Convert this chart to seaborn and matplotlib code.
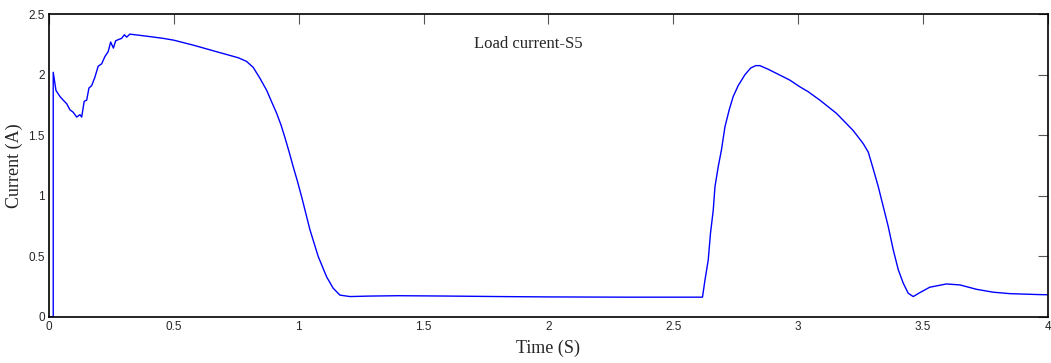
import matplotlib
matplotlib.use("Agg")
import matplotlib.pyplot as plt
import seaborn as sns
import pandas as pd

# load current S5
time_s = [0.0, 0.017, 0.017, 0.028, 0.044, 0.057, 0.071, 0.084, 0.097, 0.111, 0.124,
          0.131, 0.141, 0.151, 0.160, 0.171, 0.184, 0.197, 0.211, 0.224, 0.237,
          0.247, 0.258, 0.267, 0.278, 0.291, 0.302, 0.311, 0.324, 0.344, 0.384,
          0.458, 0.500, 0.578, 0.671, 0.758, 0.791, 0.818, 0.845, 0.872, 0.895,
          0.912, 0.930, 0.945, 0.962, 0.978, 0.995, 1.012, 1.045, 1.078, 1.112,
          1.138, 1.165, 1.205, 1.285, 1.400, 1.600, 1.800, 2.000, 2.300, 2.617,
          2.627, 2.640, 2.649, 2.660, 2.667, 2.680, 2.693, 2.707, 2.724, 2.740,
          2.760, 2.787, 2.810, 2.830, 2.847, 2.880, 2.914, 2.967, 3.007, 3.040,
          3.087, 3.154, 3.220, 3.261, 3.281, 3.301, 3.321, 3.341, 3.361, 3.381,
          3.401, 3.421, 3.441, 3.461, 3.487, 3.527, 3.594, 3.648, 3.714, 3.781,
          3.848, 3.968, 4.000]
current_a = [0.0, 0.0, 2.02, 1.87, 1.82, 1.79, 1.76, 1.71, 1.69, 1.65, 1.67,
             1.65, 1.78, 1.79, 1.89, 1.91, 1.98, 2.07, 2.09, 2.15, 2.19,
             2.27, 2.22, 2.28, 2.29, 2.30, 2.33, 2.31, 2.335, 2.33, 2.32,
             2.30, 2.285, 2.244, 2.19, 2.14, 2.11, 2.06, 1.97, 1.87, 1.76,
             1.68, 1.58, 1.48, 1.36, 1.24, 1.12, 0.99, 0.72, 0.50, 0.33,
             0.237, 0.18, 0.168, 0.172, 0.175, 0.172, 0.168, 0.165, 0.163, 0.163,
             0.305, 0.47, 0.69, 0.88, 1.075, 1.24, 1.38, 1.57, 1.71, 1.82,
             1.91, 2.00, 2.055, 2.075, 2.075, 2.045, 2.01, 1.955, 1.90, 1.86,
             1.79, 1.68, 1.54, 1.43, 1.36, 1.22, 1.075, 0.91, 0.745, 0.553,
             0.39, 0.278, 0.195, 0.168, 0.20, 0.245, 0.272, 0.264, 0.228, 0.204,
             0.192, 0.184, 0.183]

x_ticks = [0, 0.5, 1, 1.5, 2, 2.5, 3, 3.5, 4]
y_ticks = [0, 0.5, 1, 1.5, 2, 2.5]

df = pd.DataFrame({"t": time_s, "i": current_a})

sns.set_style("white")
plt.rcParams["font.family"] = ["Liberation Sans", "DejaVu Sans"]

fig = plt.figure(figsize=(10.51, 3.63), dpi=100)
ax = fig.add_axes([0.0466, 0.127, 0.9504, 0.834])

sns.lineplot(data=df, x="t", y="i", estimator=None, sort=False,
             color="#0000ff", linewidth=1.0, ax=ax)

ax.set_xlim(0, 4)
ax.set_ylim(0, 2.5)
ax.set_xticks(x_ticks)
ax.set_yticks(y_ticks)
ax.set_xticklabels([f"{v:g}" for v in x_ticks])
ax.set_yticklabels([f"{v:g}" for v in y_ticks])
ax.tick_params(direction="in", length=7, width=0.8, color="#555555",
               labelsize=8.5, top=True, right=True, pad=3)

for s in ax.spines.values():
    s.set_color("black")
    s.set_linewidth(1.2)

serif = ["Liberation Serif", "DejaVu Serif"]
ax.set_xlabel("Time (S)", family=serif, fontsize=13, labelpad=5)
ax.set_ylabel("Current (A)", family=serif, fontsize=13, labelpad=4)
ax.text(1.918, 2.25, "Load current-S5", family=serif, fontsize=12,
        ha="center", va="center")

fig.savefig("out.png", dpi=100)
